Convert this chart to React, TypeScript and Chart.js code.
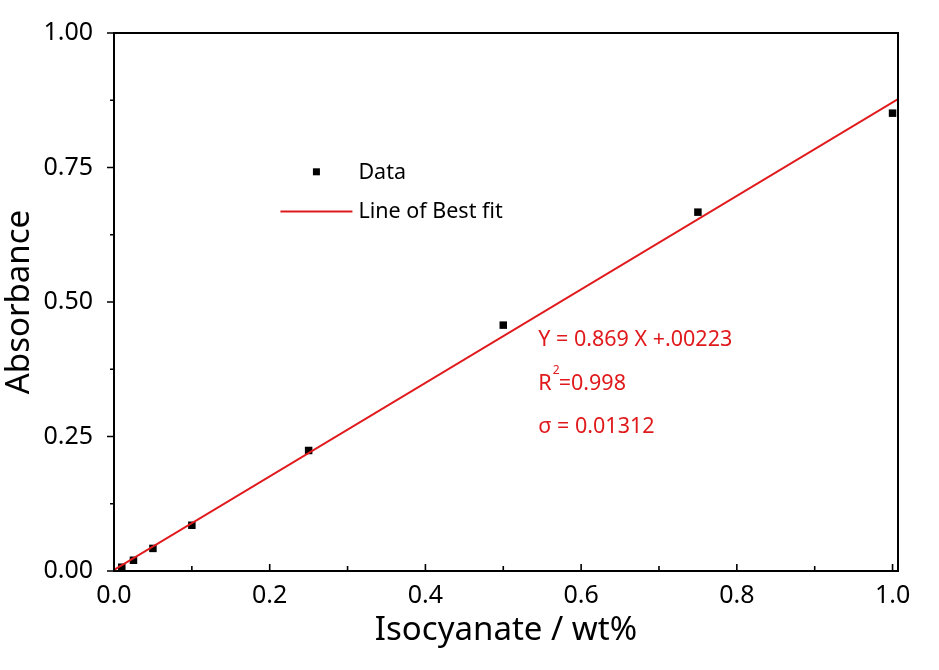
import { useEffect, useRef } from 'react';
import { Chart, registerables } from 'chart.js';

Chart.register(...registerables);

const concX = [0.01, 0.025, 0.05, 0.1, 0.25, 0.5, 0.75, 1.0];
const absY = [0.007, 0.02, 0.042, 0.085, 0.224, 0.457, 0.667, 0.851];

// end points of the fitted line (Y = 0.869 X + 0.00223) across the axis
const fitX = [0, 1.007];
const fitY = [0.002, 0.877];

const xTickLabels = ['0.0', '0.2', '0.4', '0.6', '0.8', '1.0'];
const yTickLabels = ['0.00', '0.25', '0.50', '0.75', '1.00'];

const legendLabels = ['Data', 'Line of Best fit'];
const fitNotes = ['Y = 0.869 X +.00223', 'R', '=0.998', 'σ = 0.01312'];

const FONT = '"Noto Sans", "Open Sans", sans-serif';
const RED = '#e01a1c';

const framePlugin = {
  id: 'frame',
  afterDraw(chart: any) {
    const { ctx, chartArea: a, scales } = chart;
    const xs = scales.x;
    const ys = scales.y;
    ctx.save();
    ctx.strokeStyle = '#000';
    ctx.lineWidth = 2;
    ctx.strokeRect(a.left, a.top, a.right - a.left, a.bottom - a.top);

    // x ticks point into the plot, y ticks point outwards
    ctx.lineWidth = 1.6;
    ctx.beginPath();
    for (let i = 0; i <= 10; i++) {
      const v = i / 10;
      const px = xs.getPixelForValue(v);
      const len = i % 2 === 0 ? 7 : 5;
      ctx.moveTo(px, a.bottom);
      ctx.lineTo(px, a.bottom - len);
    }
    for (let i = 0; i <= 8; i++) {
      const v = i / 8;
      const py = ys.getPixelForValue(v);
      const len = i % 2 === 0 ? 7 : 4;
      ctx.moveTo(a.left, py);
      ctx.lineTo(a.left - len, py);
    }
    ctx.stroke();

    // legend
    const lx = xs.getPixelForValue(0.26);
    const ly1 = ys.getPixelForValue(0.742);
    const ly2 = ys.getPixelForValue(0.668);
    ctx.fillStyle = '#000';
    ctx.fillRect(lx - 3.5, ly1 - 3.5, 7, 7);
    ctx.strokeStyle = RED;
    ctx.lineWidth = 2;
    ctx.beginPath();
    ctx.moveTo(lx - 36, ly2);
    ctx.lineTo(lx + 36, ly2);
    ctx.stroke();
    ctx.font = `21.5px ${FONT}`;
    ctx.textBaseline = 'middle';
    ctx.textAlign = 'left';
    ctx.fillStyle = '#000';
    ctx.fillText(legendLabels[0], lx + 42, ly1 + 1);
    ctx.fillText(legendLabels[1], lx + 42, ly2);

    // fit statistics
    const ex = xs.getPixelForValue(0.545);
    ctx.fillStyle = RED;
    ctx.font = `21.5px ${FONT}`;
    const e1 = ys.getPixelForValue(0.43);
    const e2 = ys.getPixelForValue(0.348);
    const e3 = ys.getPixelForValue(0.268);
    ctx.fillText(fitNotes[0], ex, e1);
    ctx.fillText(fitNotes[1], ex, e2);
    const rw = ctx.measureText(fitNotes[1]).width;
    ctx.font = `12px ${FONT}`;
    ctx.fillText('2', ex + rw + 1, e2 - 13);
    ctx.font = `21.5px ${FONT}`;
    ctx.fillText(fitNotes[2], ex + rw + 7, e2);
    ctx.fillText(fitNotes[3], ex, e3);
    ctx.restore();
  },
};

export default function App() {
  const canvasRef = useRef<HTMLCanvasElement>(null);

  useEffect(() => {
    if (!canvasRef.current) return;
    const chart = new Chart(canvasRef.current, {
      type: 'scatter',
      data: {
        datasets: [
          {
            label: legendLabels[1],
            data: fitX.map((x, i) => ({ x, y: fitY[i] })),
            showLine: true,
            borderColor: RED,
            borderWidth: 2,
            pointRadius: 0,
          },
          {
            label: legendLabels[0],
            data: concX.map((x, i) => ({ x, y: absY[i] })),
            pointStyle: 'rect',
            pointRadius: 5.3,
            borderWidth: 0,
            backgroundColor: '#000',
            borderColor: '#000',
            clip: false,
          },
        ],
      },
      options: {
        animation: false,
        responsive: true,
        maintainAspectRatio: false,
        layout: { padding: { top: 33, right: 41, left: 0, bottom: 20 } },
        plugins: { legend: { display: false }, tooltip: { enabled: false } },
        scales: {
          x: {
            type: 'linear',
            min: 0,
            max: 1.007,
            grid: { display: false },
            border: { display: false },
            afterFit: (s: any) => {
              s.height = 79;
            },
            afterBuildTicks: (s: any) => {
              s.ticks = xTickLabels.map((_, i) => ({ value: i * 0.2 }));
            },
            ticks: {
              color: '#000',
              padding: 2,
              font: { family: FONT, size: 25 },
              callback: (_v: any, i: number) => xTickLabels[i],
            },
            title: {
              display: true,
              text: 'Isocyanate / wt%',
              color: '#000',
              font: { family: FONT, size: 33 },
              padding: { top: 0, bottom: 0 },
            },
          },
          y: {
            type: 'linear',
            min: 0,
            max: 1,
            grid: { display: false },
            border: { display: false },
            afterFit: (s: any) => {
              s.width = 114;
            },
            afterBuildTicks: (s: any) => {
              s.ticks = yTickLabels.map((_, i) => ({ value: i * 0.25 }));
            },
            ticks: {
              color: '#000',
              padding: 13,
              font: { family: FONT, size: 25 },
              callback: (_v: any, i: number) => yTickLabels[i],
            },
            title: {
              display: true,
              text: 'Absorbance',
              color: '#000',
              font: { family: FONT, size: 33 },
              padding: { top: 0, bottom: 0 },
            },
          },
        },
      },
      plugins: [framePlugin],
    });
    return () => chart.destroy();
  }, []);

  return (
    <div style={{ position: 'fixed', left: 0, top: 0, width: 939, height: 670, background: '#fff' }}>
      <canvas ref={canvasRef} />
    </div>
  );
}
